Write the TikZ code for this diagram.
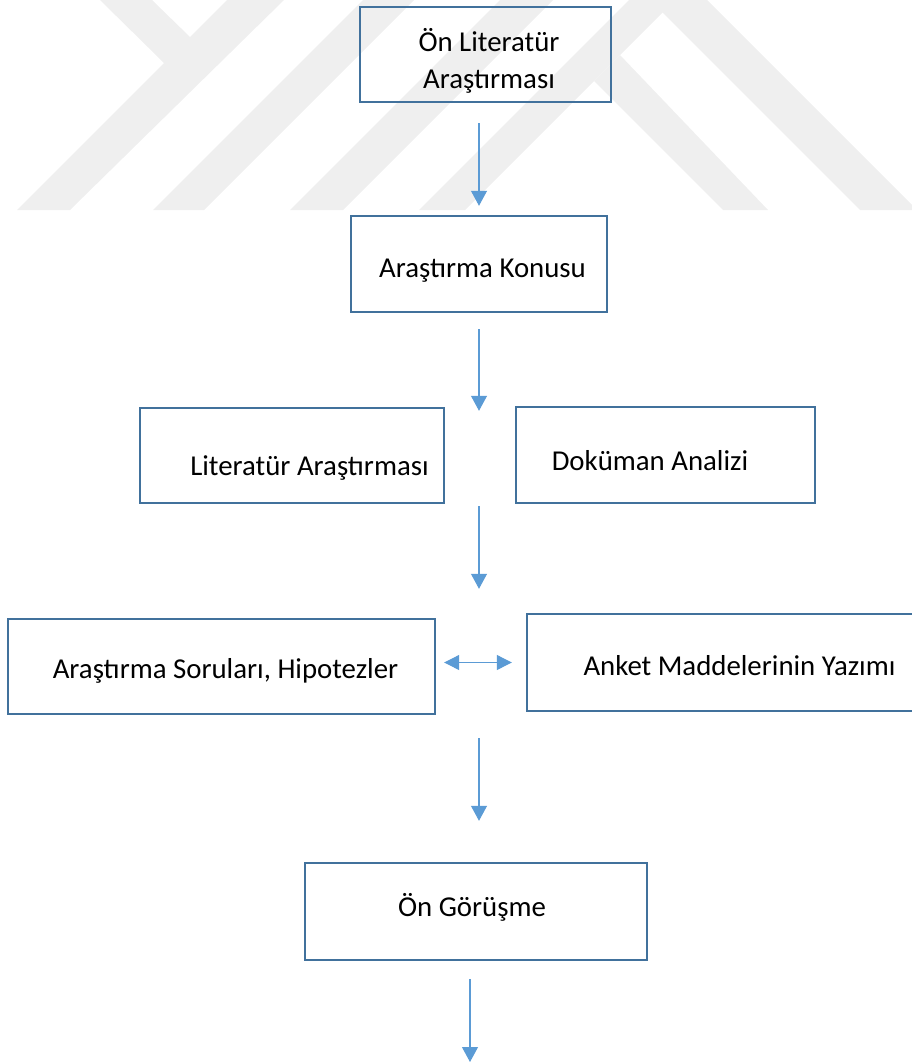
\documentclass[tikz,border=0pt]{standalone}
\usepackage{fontspec}
\setmainfont{Carlito}
\usetikzlibrary{arrows.meta}
\definecolor{kenar}{HTML}{41719C}
\definecolor{okmavi}{HTML}{5B9BD5}
\definecolor{filigran}{HTML}{EFEFEF}
\begin{document}
\begin{tikzpicture}[x=0.02cm,y=-0.02cm,
	kutu/.style={draw=kenar,line width=1.4pt,inner sep=0pt},
	yazi/.style={anchor=base,font=\fontsize{16.4}{21.4}\selectfont},
	ok/.style={draw=okmavi,line width=0.6pt,-{Triangle[length=0.3cm,width=0.32cm]}},
	ciftok/.style={ok,{Triangle[length=0.3cm,width=0.3cm]}-{Triangle[length=0.3cm,width=0.3cm]}}]
	\useasboundingbox (0,0) rectangle (912,1062);
	\clip (0,0) rectangle (912,1062);
	% filigran
	\fill[filigran] (100,0)--(152,0)--(190,37)--(227,0)--(284,0)--(70,210)--(17,210)--(164,63)--cycle;
	\fill[filigran] (153,210)--(204,210)--(414,0)--(363,0)--cycle;
	\fill[filigran] (290,210)--(343,210)--(553,0)--(500,0)--cycle;
	\fill[filigran] (419,210)--(465,210)--(675,0)--(629,0)--cycle;
	\fill[filigran] (650,0)--(707,0)--(917,210)--(860,210)--cycle;
	\fill[filigran] (723,210)--(768,210)--(620,55)--(594,81)--cycle;
	% kutular
	\node[kutu,minimum width=5.02cm,minimum height=1.9cm] (onlit) at (485.5,54.5) {};
	\node[kutu,minimum width=5.12cm,minimum height=1.92cm] (konu) at (479,264) {};
	\node[kutu,minimum width=6.08cm,minimum height=1.9cm] (litar) at (292,455.5) {};
	\node[kutu,minimum width=5.98cm,minimum height=1.92cm] (dokuman) at (665.5,455) {};
	\node[kutu,minimum width=8.54cm,minimum height=1.9cm] (sorular) at (221.5,666.5) {};
	\node[kutu,minimum width=7.96cm,minimum height=1.94cm] (anket) at (726,662.5) {};
	\node[kutu,minimum width=6.84cm,minimum height=1.94cm] (gorusme) at (476,911.5) {};
	% yazilar
	\node[yazi,anchor=center,align=center] (onlit-y) at (489,61) {Ön Literatür\\Araştırması};
	\node[yazi] (konu-y) at (482.5,277) {Araştırma Konusu};
	\node[yazi] (litar-y) at (309.5,475) {Literatür Araştırması};
	\node[yazi] (dokuman-y) at (650,470) {Doküman Analizi};
	\node[yazi] (sorular-y) at (225.5,678) {Araştırma Soruları, Hipotezler};
	\node[yazi] (anket-y) at (739.5,675) {Anket Maddelerinin Yazımı};
	\node[yazi] (gorusme-y) at (472,916) {Ön Görüşme};
	% oklar
	\draw[ok,shorten <=0.4cm,shorten >=0.18cm] (onlit.south -| konu.north) -- (konu.north);
	\draw[ok,shorten <=0.32cm,shorten >=-0.08cm] (konu.south) -- (konu.south |- litar.north);
	\draw[ok,shorten <=0.04cm,shorten >=0.58cm] (konu.south |- litar.south) -- (konu.south |- sorular.north);
	\draw[ciftok,shorten <=0.16cm,shorten >=0.28cm] (sorular.east |- anket.west) -- (anket.west);
	\draw[ok,shorten <=0.46cm,shorten >=0.82cm] (konu.south |- sorular.south) -- (konu.south |- gorusme.north);
	\coordinate (son) at (470,1062);
	\draw[ok,shorten <=0.36cm] (gorusme.south -| son) -- (son);
\end{tikzpicture}
\end{document}
